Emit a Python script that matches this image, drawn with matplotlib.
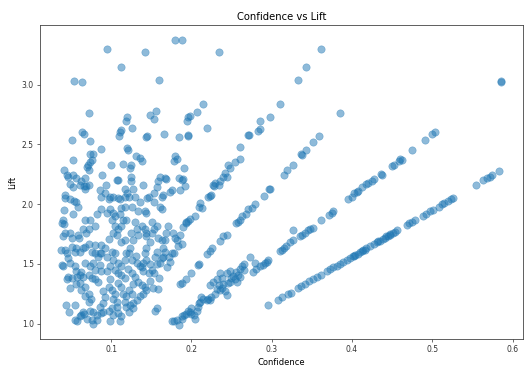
import matplotlib
matplotlib.use("Agg")
import matplotlib.pyplot as plt

# ---- data: (confidence, lift) ----
blob_high = [(0.095,3.30),(0.180,3.37),(0.189,3.37),(0.142,3.27),(0.235,3.27),(0.112,3.15),
    (0.054,3.03),(0.064,3.02),(0.160,3.04),(0.073,2.76),(0.120,2.73),(0.119,2.70),(0.112,2.62),
    (0.111,2.60),(0.110,2.57),(0.126,2.64),(0.148,2.75),(0.153,2.71),(0.156,2.78),(0.196,2.73),
    (0.198,2.74),(0.195,2.70),(0.207,2.77),(0.214,2.84),(0.219,2.64),(0.052,2.54),(0.064,2.60),
    (0.067,2.59),(0.074,2.53),(0.144,2.56),(0.145,2.57),(0.166,2.59),(0.185,2.56),(0.196,2.58),
    (0.196,2.57)]
blob_22_25 = [(0.088,2.46),(0.053,2.37),(0.074,2.42),(0.078,2.42),(0.076,2.37),(0.071,2.33),
    (0.074,2.35),(0.100,2.33),(0.115,2.34),(0.125,2.33),(0.136,2.39),(0.138,2.36),(0.180,2.40),
    (0.182,2.38),(0.178,2.36),(0.191,2.30),(0.041,2.29),(0.045,2.24),(0.047,2.23),(0.053,2.24),
    (0.070,2.31),(0.073,2.29),(0.089,2.24),(0.161,2.23),(0.185,2.22),(0.125,2.23),(0.120,2.47),
    (0.121,2.45),(0.124,2.30),(0.057,2.22),(0.068,2.22),(0.131,2.40),(0.109,2.20)]
blob_20_22 = [(0.049,2.17),(0.063,2.19),(0.066,2.15),(0.069,2.15),(0.072,2.16),(0.094,2.16),
    (0.107,2.20),(0.117,2.13),(0.127,2.13),(0.125,2.19),(0.140,2.16),(0.086,2.12),(0.157,2.14),
    (0.159,2.19),(0.167,2.22),(0.169,2.21),(0.174,2.10),(0.153,2.09),(0.147,2.06),(0.164,2.06),
    (0.043,2.05),(0.049,2.04),(0.054,2.03),(0.056,2.02),(0.088,2.06),(0.103,2.06),(0.109,2.05),
    (0.097,2.04),(0.122,2.06),(0.117,2.06),(0.130,2.06),(0.053,2.14),(0.189,2.20),(0.190,2.21),
    (0.061,2.16),(0.068,2.13),(0.043,2.08),(0.093,2.09),(0.099,2.06),(0.111,2.04),(0.120,2.09),
    (0.136,2.02),(0.145,2.05),(0.153,2.02),(0.165,2.08),(0.176,2.12),(0.186,2.12),(0.192,2.15)]
blob_18_20 = [(0.059,1.98),(0.041,1.95),(0.053,1.92),(0.040,1.87),(0.039,1.84),(0.041,1.83),
    (0.068,1.87),(0.074,1.87),(0.080,1.82),(0.082,1.92),(0.088,1.96),(0.095,1.93),(0.099,1.96),
    (0.103,1.93),(0.105,1.90),(0.101,1.87),(0.105,1.82),(0.111,1.92),(0.113,1.97),(0.117,1.98),
    (0.115,1.87),(0.119,1.87),(0.113,1.82),(0.126,1.98),(0.134,1.94),(0.130,1.85),(0.138,1.82),
    (0.144,1.93),(0.142,1.94),(0.151,1.85),(0.157,1.82),(0.163,1.96),(0.161,1.98),(0.171,1.82),
    (0.190,1.81),(0.193,1.84),(0.072,1.79),(0.065,1.79),(0.109,1.79),(0.132,1.79),(0.142,1.79),
    (0.153,1.79)]
blob_16_18 = [(0.043,1.76),(0.040,1.73),(0.049,1.76),(0.051,1.72),(0.059,1.74),(0.060,1.72),
    (0.069,1.76),(0.088,1.66),(0.080,1.66),(0.072,1.67),(0.068,1.64),(0.065,1.63),(0.038,1.62),
    (0.043,1.62),(0.045,1.59),(0.051,1.64),(0.057,1.63),(0.055,1.60),(0.061,1.60),(0.076,1.60),
    (0.080,1.59),(0.086,1.59),(0.093,1.63),(0.088,1.59),(0.101,1.60),(0.105,1.59),(0.103,1.76),
    (0.107,1.74),(0.119,1.59),(0.124,1.63),(0.122,1.59),(0.125,1.76),(0.128,1.70),(0.134,1.74),
    (0.144,1.76),(0.151,1.76),(0.144,1.73),(0.142,1.59),(0.144,1.63),(0.165,1.63),(0.167,1.60),
    (0.169,1.76),(0.167,1.70),(0.163,1.70),(0.157,1.60),(0.177,1.76),(0.176,1.59),(0.178,1.59),
    (0.180,1.72),(0.182,1.70),(0.186,1.74),(0.184,1.65),(0.189,1.67),(0.117,1.70),(0.112,1.68),
    (0.097,1.71),(0.158,1.72),(0.148,1.68)]
blob_14_16 = [(0.039,1.49),(0.040,1.48),(0.049,1.51),(0.055,1.48),(0.057,1.44),(0.061,1.41),
    (0.068,1.51),(0.074,1.48),(0.078,1.51),(0.086,1.49),(0.063,1.43),(0.072,1.41),(0.084,1.56),
    (0.095,1.56),(0.103,1.53),(0.109,1.51),(0.113,1.48),(0.117,1.53),(0.099,1.48),(0.095,1.44),
    (0.105,1.45),(0.109,1.42),(0.113,1.41),(0.126,1.53),(0.132,1.51),(0.136,1.48),(0.140,1.51),
    (0.144,1.53),(0.149,1.50),(0.138,1.47),(0.140,1.44),(0.147,1.42),(0.151,1.45),(0.126,1.42),
    (0.153,1.42),(0.157,1.50),(0.161,1.51),(0.163,1.55),(0.165,1.56),(0.172,1.56),(0.047,1.55),
    (0.088,1.44),(0.121,1.46),(0.131,1.57),(0.155,1.56),(0.170,1.47),(0.174,1.52),(0.080,1.45)]
blob_12_14 = [(0.047,1.39),(0.045,1.37),(0.051,1.38),(0.058,1.39),(0.049,1.30),(0.061,1.34),
    (0.065,1.39),(0.076,1.38),(0.080,1.37),(0.084,1.35),(0.068,1.31),(0.063,1.28),(0.072,1.25),
    (0.075,1.21),(0.068,1.23),(0.117,1.38),(0.099,1.37),(0.097,1.31),(0.101,1.28),(0.105,1.25),
    (0.103,1.21),(0.113,1.31),(0.115,1.25),(0.119,1.23),(0.130,1.39),(0.134,1.35),(0.138,1.32),
    (0.142,1.31),(0.144,1.28),(0.140,1.25),(0.136,1.23),(0.132,1.20),(0.126,1.25),(0.122,1.28),
    (0.090,1.27),(0.056,1.33),(0.152,1.30),(0.148,1.36),(0.127,1.33),(0.109,1.34),(0.092,1.22),
    (0.160,1.38),(0.158,1.29)]
blob_10_12 = [(0.044,1.16),(0.055,1.16),(0.055,1.03),(0.058,1.02),(0.061,1.06),(0.072,1.18),
    (0.074,1.11),(0.078,1.10),(0.082,1.07),(0.076,1.03),(0.078,1.00),(0.082,1.03),(0.065,1.10),
    (0.063,1.07),(0.086,1.14),(0.088,1.09),(0.107,1.18),(0.097,1.11),(0.101,1.13),(0.107,1.14),
    (0.109,1.09),(0.103,1.07),(0.099,1.02),(0.111,1.02),(0.117,1.18),(0.119,1.14),(0.090,1.10),
    (0.090,1.17),(0.128,1.17),(0.124,1.16),(0.122,1.10),(0.128,1.13),(0.157,1.13),(0.155,1.11),
    (0.070,1.04),(0.067,1.08),(0.113,1.06),(0.048,1.10)]

line_a = [(0.194,1.85),(0.196,1.86),(0.198,1.88),(0.205,1.90),(0.210,1.98),(0.211,2.01),
    (0.213,1.97),(0.221,2.06),(0.223,2.07),(0.225,2.08),(0.227,2.16),(0.228,2.15),(0.230,2.18),
    (0.234,2.16),(0.236,2.19),(0.240,2.23),(0.242,2.26),(0.244,2.23),(0.246,2.33),(0.248,2.30),
    (0.254,2.35),(0.260,2.38),(0.260,2.48),(0.270,2.58),(0.272,2.58),(0.283,2.61),(0.286,2.63),
    (0.285,2.70),(0.298,2.73),(0.311,2.84),(0.333,3.04),(0.343,3.15),(0.361,3.30),(0.385,2.76)]
line_b = [(0.359,2.57),(0.352,2.52),(0.343,2.45),(0.337,2.42),(0.338,2.41),(0.326,2.33),
    (0.319,2.29),(0.315,2.24),(0.298,2.13),(0.297,2.125),(0.291,2.07),(0.279,2.00),(0.275,1.97),
    (0.271,1.96),(0.268,1.92),(0.263,1.90),(0.260,1.87),(0.258,1.85),(0.256,1.84),(0.244,1.74),
    (0.240,1.73),(0.236,1.69),(0.226,1.63),(0.223,1.61),(0.220,1.58),(0.210,1.50),(0.208,1.49),
    (0.199,1.42),(0.193,1.37),(0.188,1.34),(0.186,1.33)]
line_c_low = [(0.176,1.02),(0.179,1.02),(0.182,1.03),(0.185,0.99),(0.188,1.04),(0.189,1.06),
    (0.191,1.07),(0.194,1.08),(0.196,1.11),(0.198,1.10),(0.200,1.13),(0.200,1.08),(0.203,1.07),
    (0.205,1.04),(0.207,1.11),(0.208,1.14),(0.209,1.17),(0.211,1.18),(0.212,1.22),(0.215,1.21),
    (0.219,1.20),(0.221,1.21),(0.223,1.20),(0.225,1.22),(0.229,1.25),(0.232,1.29),(0.234,1.32),
    (0.236,1.28),(0.238,1.30),(0.240,1.33),(0.242,1.27),(0.244,1.24),(0.246,1.34),(0.248,1.35),
    (0.250,1.38),(0.252,1.40),(0.254,1.37),(0.256,1.43),(0.258,1.41),(0.260,1.46),(0.263,1.48),
    (0.260,1.39),(0.257,1.35),(0.265,1.50),(0.266,1.45),(0.273,1.56),(0.279,1.51),(0.281,1.46),
    (0.277,1.43),(0.286,1.48),(0.289,1.49),(0.292,1.51),(0.294,1.52),(0.296,1.53),(0.236,1.42),
    (0.238,1.38),(0.244,1.42),(0.248,1.44),(0.232,1.37),(0.227,1.35),(0.223,1.32)]
line_c = [(0.503,2.60),(0.500,2.59),(0.491,2.54),(0.475,2.45),(0.460,2.38),(0.458,2.36),
    (0.452,2.33),(0.450,2.32),(0.436,2.25),(0.427,2.21),(0.420,2.18),(0.418,2.17),(0.412,2.14),
    (0.406,2.10),(0.403,2.09),(0.395,2.04),(0.377,1.94),(0.375,1.93),(0.371,1.91),(0.362,1.87),
    (0.351,1.80),(0.348,1.79),(0.345,1.78),(0.342,1.76),(0.338,1.74),(0.335,1.73),(0.327,1.70),
    (0.326,1.78),(0.323,1.68),(0.318,1.65),(0.315,1.63),(0.313,1.62),(0.310,1.61),(0.400,2.06),
    (0.408,2.11),(0.425,2.19),(0.437,2.24),(0.462,2.37),(0.585,3.03),(0.586,3.02)]
line_d = [(0.296,1.155),(0.308,1.20),(0.3125,1.22),(0.320,1.25),(0.324,1.26),(0.3325,1.30),
    (0.337,1.315),(0.342,1.33),(0.347,1.355),(0.351,1.37),(0.356,1.39),(0.361,1.41),(0.369,1.44),
    (0.373,1.455),(0.377,1.47),(0.381,1.485),(0.385,1.50),(0.389,1.52),(0.3935,1.535),(0.398,1.55),
    (0.401,1.565),(0.404,1.575),(0.407,1.585),(0.410,1.60),(0.414,1.615),(0.418,1.63),(0.4225,1.65),
    (0.427,1.665),(0.431,1.68),(0.435,1.695),(0.441,1.72),(0.445,1.735),(0.448,1.75),(0.451,1.76),
    (0.454,1.77),(0.456,1.78),(0.468,1.825),(0.4715,1.84),(0.4745,1.85),(0.479,1.87),(0.489,1.905),
    (0.492,1.92),(0.497,1.94),(0.5005,1.95),(0.508,1.98),(0.512,2.00),(0.515,2.01),(0.520,2.03),
    (0.523,2.04),(0.526,2.05),(0.5545,2.16),(0.5635,2.20),(0.568,2.215),(0.572,2.23),(0.575,2.24),
    (0.583,2.28),(0.433,1.69),(0.439,1.71),(0.443,1.73),(0.447,1.745),(0.412,1.605),(0.416,1.62),
    (0.402,1.57)]

groups = [blob_high, blob_22_25, blob_20_22, blob_18_20, blob_16_18, blob_14_16,
          blob_12_14, blob_10_12, line_a, line_b, line_c_low, line_c, line_d]
confidence = [p[0] for g in groups for p in g]
lift = [p[1] for g in groups for p in g]

title = "Confidence vs Lift"
xlabel = "Confidence"
ylabel = "Lift"

fig = plt.figure(figsize=(5.25, 3.7), dpi=100)
ax = fig.add_axes([0.0762, 0.0846, 0.92, 0.847])
ax.scatter(confidence, lift, s=28, color="#1f77b4", alpha=0.5, linewidths=0.4)
ax.set_xlim(0.0116, 0.613)
ax.set_ylim(0.874, 3.497)
ax.set_xticks([0.1, 0.2, 0.3, 0.4, 0.5, 0.6])
ax.set_yticks([1.0, 1.5, 2.0, 2.5, 3.0])
ax.tick_params(labelsize=5.5, length=2.5, width=0.5, pad=2, colors="#333333")
for s in ax.spines.values():
    s.set_linewidth(0.6)
    s.set_color("#444444")
ax.set_title(title, fontsize=7.2, pad=4)
ax.set_xlabel(xlabel, fontsize=6, labelpad=3)
ax.set_ylabel(ylabel, fontsize=6, labelpad=3)
fig.savefig("out.png", dpi=100)
